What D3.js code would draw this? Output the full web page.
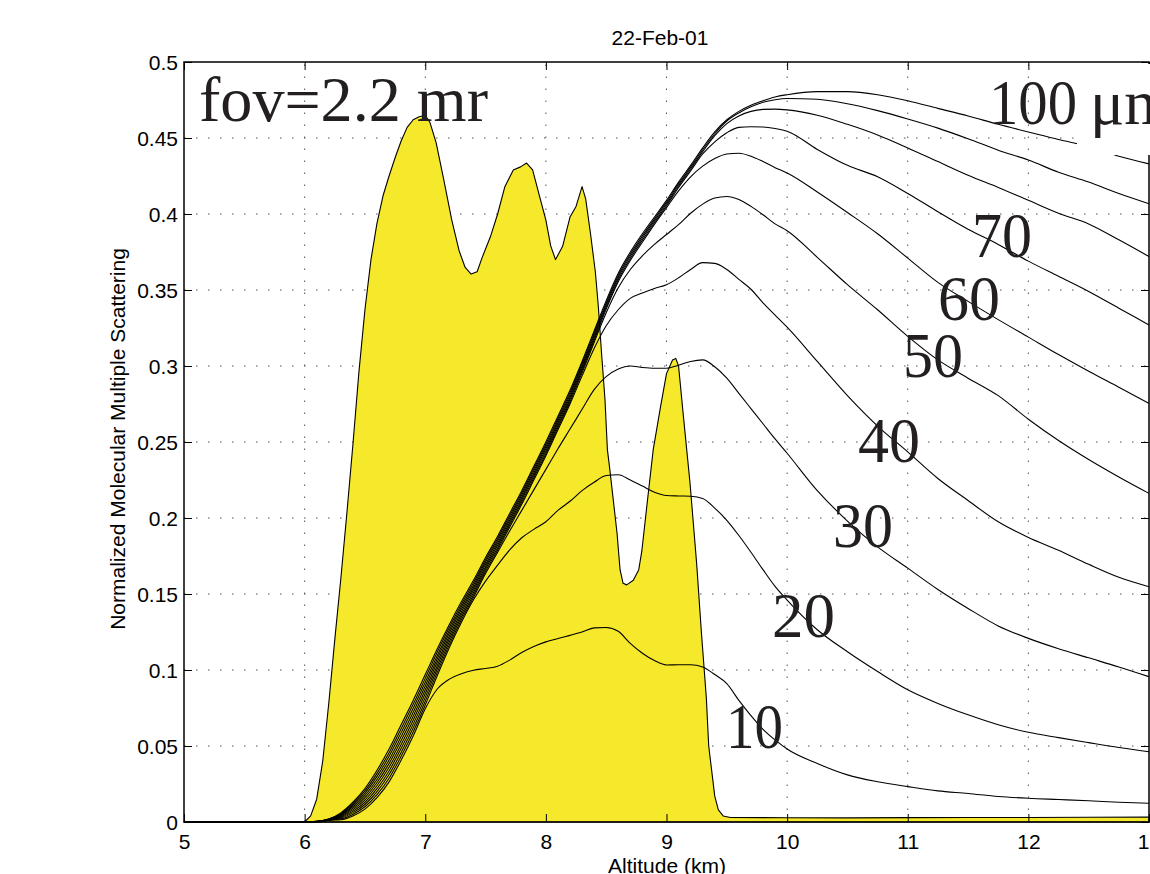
<!DOCTYPE html>
<html>
<head>
<meta charset="utf-8">
<script src="https://cdn.jsdelivr.net/npm/d3@7"></script>
<style>
  html, body { margin: 0; padding: 0; background: #fff; }
  svg { display: block; }
</style>
</head>
<body>
<svg id="chart" width="1150" height="874"></svg>
<script>
// ---------------- DATA ----------------
const title = "22-Feb-01";
const xLabel = "Altitude (km)";
const yLabel = "Normalized Molecular Multiple Scattering";
const xTicks = [5, 6, 7, 8, 9, 10, 11, 12, 13];
const yTicks = [0, 0.05, 0.1, 0.15, 0.2, 0.25, 0.3, 0.35, 0.4, 0.45, 0.5];
const yTickLabels = ["0", "0.05", "0.1", "0.15", "0.2", "0.25", "0.3", "0.35", "0.4", "0.45", "0.5"];

// cloud (yellow) profile
const cloudAlt = [5.0, 6.0, 6.05, 6.1, 6.15, 6.2, 6.25, 6.3, 6.35, 6.4, 6.45, 6.5, 6.55, 6.6, 6.65, 6.7, 6.75, 6.8, 6.85, 6.9, 6.95, 7.0,
  7.04, 7.09, 7.15, 7.22, 7.28, 7.33, 7.38, 7.43, 7.47, 7.54, 7.6, 7.66, 7.73, 7.79, 7.84, 7.89, 7.95, 8.0, 8.04, 8.08,
  8.14, 8.2, 8.25, 8.3, 8.33, 8.37, 8.41, 8.435, 8.46, 8.49, 8.51, 8.53, 8.59, 8.615, 8.64, 8.67, 8.725, 8.77, 8.795,
  8.84, 8.89, 8.95, 9.0, 9.05, 9.077, 9.1, 9.14, 9.195, 9.25, 9.29, 9.33, 9.35, 9.4, 9.43, 9.47, 9.53,
  10.0, 10.5, 11.0, 11.5, 12.0, 12.5, 13.0];
const cloudVal = [0, 0, 0.004, 0.015, 0.040, 0.078, 0.120, 0.160, 0.203, 0.248, 0.296, 0.337, 0.370, 0.394, 0.412, 0.425, 0.437, 0.448, 0.457, 0.462, 0.464, 0.465,
  0.460, 0.447, 0.424, 0.396, 0.376, 0.365, 0.3605, 0.362, 0.371, 0.385, 0.400, 0.418, 0.429, 0.431, 0.4335, 0.429, 0.411, 0.396, 0.379, 0.370,
  0.379, 0.398, 0.405, 0.418, 0.410, 0.387, 0.362, 0.339, 0.310, 0.278, 0.245, 0.232, 0.190, 0.166, 0.157, 0.156, 0.159, 0.166, 0.178,
  0.210, 0.245, 0.273, 0.295, 0.304, 0.305, 0.300, 0.267, 0.223, 0.170, 0.124, 0.082, 0.050, 0.017, 0.008, 0.004, 0.003,
  0.0028, 0.0027, 0.0029, 0.003, 0.003, 0.0031, 0.0032];

// multiple-scattering curves, one per droplet size (µm)
const msAlt = [5.0, 6.0, 6.1, 6.2, 6.3, 6.4, 6.5, 6.6, 6.7, 6.8, 6.9, 7.0, 7.1, 7.2, 7.3, 7.4, 7.5, 7.6, 7.7, 7.8, 7.9,
  8.0, 8.1, 8.2, 8.3, 8.4, 8.5, 8.6, 8.7, 8.8, 8.9, 9.0, 9.1, 9.2, 9.3, 9.4, 9.5, 9.6, 9.7, 9.8, 9.9,
  10.0, 10.25, 10.5, 10.75, 11.0, 11.25, 11.5, 11.75, 12.0, 12.25, 12.5, 12.75, 13.0];
const ms100 = [0, 0, 0.0005, 0.002, 0.006, 0.013, 0.022, 0.034, 0.048, 0.064, 0.080, 0.097, 0.114, 0.130, 0.145, 0.159, 0.174, 0.188, 0.203, 0.218, 0.234,
  0.250, 0.267, 0.284, 0.303, 0.323, 0.343, 0.361, 0.375, 0.387, 0.398, 0.409, 0.421, 0.432, 0.4435, 0.454, 0.462, 0.4675, 0.4715, 0.4745, 0.477,
  0.4785, 0.4805, 0.4805, 0.4785, 0.4745, 0.4695, 0.4645, 0.459, 0.454, 0.449, 0.4445, 0.438, 0.433];
const ms90 = [0, 0, 0.00045, 0.0019, 0.0055, 0.012, 0.0205, 0.032, 0.0456, 0.0614, 0.0774, 0.0945, 0.1118, 0.1281, 0.1433, 0.1574, 0.1725, 0.1865, 0.2015, 0.2165, 0.2325,
  0.2485, 0.2655, 0.2825, 0.3015, 0.3215, 0.3416, 0.3596, 0.3736, 0.3856, 0.3968, 0.4078, 0.4198, 0.4308, 0.4423, 0.4528, 0.4612, 0.4665, 0.4705, 0.4735, 0.4752,
  0.476, 0.4755, 0.4725, 0.468, 0.4625, 0.4565, 0.4495, 0.442, 0.4355, 0.4275, 0.421, 0.4135, 0.4068];
const ms80 = [0, 0, 0.0004, 0.0018, 0.005, 0.011, 0.019, 0.030, 0.0432, 0.0588, 0.0748, 0.092, 0.1096, 0.1262, 0.1416, 0.1558, 0.171, 0.185, 0.200, 0.215, 0.231,
  0.247, 0.264, 0.281, 0.300, 0.320, 0.3402, 0.3582, 0.3722, 0.3842, 0.3956, 0.4066, 0.4186, 0.4296, 0.441, 0.4515, 0.4595, 0.4645, 0.4675, 0.4688, 0.469,
  0.4685, 0.465, 0.459, 0.452, 0.4435, 0.4345, 0.4255, 0.4175, 0.409, 0.4005, 0.3935, 0.383, 0.372];
const ms70 = [0, 0, 0.0003, 0.0017, 0.0045, 0.010, 0.0175, 0.028, 0.0408, 0.0562, 0.0722, 0.0895, 0.1074, 0.1243, 0.1399, 0.1542, 0.1695, 0.1835, 0.1985, 0.2135, 0.2295,
  0.2455, 0.2625, 0.2795, 0.2985, 0.3185, 0.3388, 0.3568, 0.3708, 0.3828, 0.3944, 0.4054, 0.4174, 0.4284, 0.4395, 0.4475, 0.4535, 0.457, 0.4574, 0.4572, 0.4562,
  0.4545, 0.4425, 0.432, 0.4245, 0.4135, 0.4015, 0.39, 0.38, 0.369, 0.359, 0.349, 0.338, 0.327];
const ms60 = [0, 0, 0.0003, 0.0016, 0.004, 0.009, 0.016, 0.026, 0.0384, 0.0536, 0.0696, 0.087, 0.1052, 0.1224, 0.1382, 0.1526, 0.168, 0.182, 0.197, 0.212, 0.228,
  0.244, 0.261, 0.278, 0.297, 0.317, 0.3374, 0.3554, 0.3694, 0.3814, 0.3932, 0.4042, 0.4152, 0.4245, 0.4315, 0.4365, 0.4395, 0.44, 0.438, 0.4345, 0.4305,
  0.427, 0.4145, 0.401, 0.387, 0.371, 0.355, 0.3425, 0.3305, 0.319, 0.3075, 0.2965, 0.286, 0.2754];
const ms50 = [0, 0, 0.0003, 0.0015, 0.0035, 0.008, 0.0145, 0.024, 0.036, 0.051, 0.067, 0.0845, 0.103, 0.1205, 0.1365, 0.151, 0.1665, 0.1805, 0.1955, 0.2105, 0.2265,
  0.2425, 0.2595, 0.2765, 0.2955, 0.3155, 0.335, 0.3515, 0.3635, 0.3725, 0.380, 0.3865, 0.393, 0.4005, 0.4065, 0.4105, 0.4115, 0.4095, 0.405, 0.3995, 0.3935,
  0.389, 0.3715, 0.3535, 0.337, 0.3195, 0.304, 0.292, 0.2805, 0.265, 0.251, 0.2385, 0.227, 0.2162];
const ms40 = [0, 0, 0.0002, 0.0014, 0.003, 0.007, 0.013, 0.022, 0.0336, 0.0484, 0.0644, 0.082, 0.1008, 0.1186, 0.1348, 0.1494, 0.165, 0.179, 0.194, 0.209, 0.225,
  0.241, 0.258, 0.275, 0.2935, 0.3115, 0.3265, 0.337, 0.3445, 0.348, 0.351, 0.3535, 0.358, 0.3635, 0.368, 0.3675, 0.3635, 0.357, 0.3505, 0.3415, 0.3335,
  0.3255, 0.303, 0.2805, 0.2605, 0.2435, 0.226, 0.2115, 0.1975, 0.1872, 0.1788, 0.1695, 0.161, 0.1548];
const ms30 = [0, 0, 0.0002, 0.0013, 0.0025, 0.006, 0.0115, 0.020, 0.0312, 0.0458, 0.0618, 0.0795, 0.0986, 0.1167, 0.1331, 0.1478, 0.1635, 0.1775, 0.1915, 0.205, 0.2185,
  0.232, 0.2455, 0.2585, 0.2715, 0.2845, 0.293, 0.298, 0.300, 0.299, 0.2985, 0.2985, 0.3005, 0.303, 0.304, 0.2995, 0.292, 0.282, 0.272, 0.262, 0.252,
  0.2426, 0.218, 0.198, 0.181, 0.167, 0.153, 0.1405, 0.129, 0.1208, 0.114, 0.108, 0.102, 0.0956];
const ms20 = [0, 0, 0.0001, 0.0012, 0.002, 0.005, 0.010, 0.018, 0.0288, 0.0432, 0.0592, 0.077, 0.0964, 0.1148, 0.1314, 0.1462, 0.1585, 0.169, 0.179, 0.187, 0.1925,
  0.1975, 0.205, 0.211, 0.218, 0.2235, 0.228, 0.2285, 0.225, 0.221, 0.217, 0.2148, 0.2145, 0.2143, 0.2128, 0.2065, 0.1985, 0.1885, 0.1775, 0.166, 0.155,
  0.146, 0.1265, 0.112, 0.099, 0.087, 0.078, 0.0705, 0.064, 0.059, 0.0555, 0.0522, 0.049, 0.0462];
const ms10 = [0, 0, 0, 0.0011, 0.0015, 0.004, 0.0085, 0.016, 0.0264, 0.0406, 0.0566, 0.0745, 0.0875, 0.094, 0.0975, 0.0998, 0.101, 0.1025, 0.1065, 0.1115, 0.1155,
  0.1185, 0.1207, 0.1228, 0.125, 0.1277, 0.128, 0.1255, 0.1175, 0.111, 0.1062, 0.1033, 0.1035, 0.1035, 0.102, 0.097, 0.091, 0.080, 0.070, 0.061, 0.054,
  0.048, 0.0385, 0.031, 0.0265, 0.0233, 0.0205, 0.0188, 0.0168, 0.0156, 0.0148, 0.014, 0.013, 0.0123];

const curveLabels = ["10", "20", "30", "40", "50", "60", "70"];
const fovLabel = "fov=2.2 mr";
const bigLabelNum = "100";
const bigLabelUnit = "\u03bcm";

// ---------------- DRAW ----------------
const svg = d3.select("#chart");
const plotLeft = 184, plotRight = 1149, plotTop = 62, plotBottom = 822;

const x = d3.scaleLinear().domain([5, 13]).range([plotLeft, plotRight]);
const y = d3.scaleLinear().domain([0, 0.5]).range([plotBottom, plotTop]);

const sans = "Liberation Sans, Arial, Helvetica, sans-serif";
const serif = "Liberation Serif, Times New Roman, serif";

// grid
const grid = svg.append("g").attr("stroke", "#555").attr("stroke-width", 1).attr("stroke-dasharray", "1.5,10.5");
xTicks.slice(1, -1).forEach(t => {
  grid.append("line").attr("x1", x(t)).attr("x2", x(t)).attr("y1", plotBottom).attr("y2", plotTop);
});
yTicks.slice(1, -1).forEach(t => {
  grid.append("line").attr("x1", plotLeft).attr("x2", plotRight).attr("y1", y(t)).attr("y2", y(t));
});

// yellow cloud profile
const cloud = cloudAlt.map((a, i) => [a, cloudVal[i]]);
svg.append("path")
  .datum(cloud)
  .attr("d", d3.area().x(d => x(d[0])).y0(y(0)).y1(d => y(d[1])))
  .attr("fill", "#f6e82a")
  .attr("stroke", "#000")
  .attr("stroke-width", 1.1)
  .attr("stroke-linejoin", "round");

// multiple scattering curves
const series = [ms10, ms20, ms30, ms40, ms50, ms60, ms70, ms80, ms90, ms100];
const lineGen = d3.line().x(d => x(d[0])).y(d => y(d[1])).curve(d3.curveMonotoneX);
series.forEach(vals => {
  svg.append("path")
    .datum(msAlt.map((a, i) => [a, vals[i]]))
    .attr("d", lineGen)
    .attr("fill", "none")
    .attr("stroke", "#000")
    .attr("stroke-width", 1.1)
    .attr("stroke-linejoin", "round");
});

// axes box + ticks
const axG = svg.append("g");
const xAxisB = d3.axisBottom(x).tickValues(xTicks).tickSize(-8).tickFormat(d3.format("d")).tickPadding(12);
const xAxisT = d3.axisTop(x).tickValues(xTicks).tickSize(-8).tickFormat("");
const yAxisL = d3.axisLeft(y).tickValues(yTicks).tickSize(-8).tickFormat((d, i) => yTickLabels[i]).tickPadding(6);
const yAxisR = d3.axisRight(y).tickValues(yTicks).tickSize(-8).tickFormat("");

function styleAxis(g) {
  g.select(".domain").remove();
  g.selectAll(".tick line").attr("stroke", "#000").attr("stroke-width", 1);
  g.selectAll("text").attr("font-family", sans).attr("font-size", 21).attr("fill", "#000");
}
axG.append("g").attr("transform", `translate(0,${plotBottom})`).call(xAxisB).call(styleAxis)
  .selectAll("text").attr("dy", null).attr("y", 27);
axG.append("g").attr("transform", `translate(0,${plotTop})`).call(xAxisT).call(styleAxis);
axG.append("g").attr("transform", `translate(${plotLeft},0)`).call(yAxisL).call(styleAxis)
  .selectAll("text").attr("x", -6).attr("dy", "0.36em");
axG.append("g").attr("transform", `translate(${plotRight},0)`).call(yAxisR).call(styleAxis);

axG.append("rect")
  .attr("x", plotLeft).attr("y", plotTop).attr("width", plotRight - plotLeft).attr("height", plotBottom - plotTop)
  .attr("fill", "none").attr("stroke", "#000").attr("stroke-width", 1.5);

// curve labels (inside plot)
const labelPos = [
  { x: 726, y: 748, w: 57 },
  { x: 772, y: 637, w: 63 },
  { x: 833, y: 547, w: 60 },
  { x: 858, y: 462, w: 62 },
  { x: 903, y: 377, w: 60 },
  { x: 938, y: 320, w: 62 },
  { x: 972, y: 257, w: 60 }
];
curveLabels.forEach((lab, i) => {
  const p = labelPos[i];
  svg.append("text")
    .attr("x", p.x).attr("y", p.y)
    .attr("font-family", serif).attr("font-size", 64).attr("fill", "#231f20")
    .attr("textLength", p.w).attr("lengthAdjust", "spacingAndGlyphs")
    .text(lab);
});

svg.append("text")
  .attr("x", 199).attr("y", 121)
  .attr("font-family", serif).attr("font-size", 64).attr("fill", "#231f20")
  .attr("textLength", 289).attr("lengthAdjust", "spacingAndGlyphs")
  .text(fovLabel);

svg.append("text")
  .attr("x", 989).attr("y", 124)
  .attr("font-family", serif).attr("font-size", 64).attr("fill", "#231f20")
  .attr("textLength", 88).attr("lengthAdjust", "spacingAndGlyphs")
  .text(bigLabelNum);

svg.append("rect")
  .attr("x", 1077).attr("y", 64).attr("width", 80).attr("height", 91)
  .attr("fill", "#fff");
svg.append("text")
  .attr("x", 1090).attr("y", 124)
  .attr("font-family", serif).attr("font-size", 64).attr("fill", "#231f20")
  .text(bigLabelUnit);

// title + axis labels
svg.append("text")
  .attr("x", 660).attr("y", 45).attr("text-anchor", "middle")
  .attr("font-family", sans).attr("font-size", 21).attr("fill", "#000")
  .text(title);

svg.append("text")
  .attr("x", 667).attr("y", 873).attr("text-anchor", "middle")
  .attr("font-family", sans).attr("font-size", 21).attr("fill", "#000")
  .text(xLabel);

svg.append("text")
  .attr("transform", "translate(125,439) rotate(-90)")
  .attr("text-anchor", "middle")
  .attr("font-family", sans).attr("font-size", 21).attr("fill", "#000")
  .text(yLabel);
</script>
</body>
</html>
